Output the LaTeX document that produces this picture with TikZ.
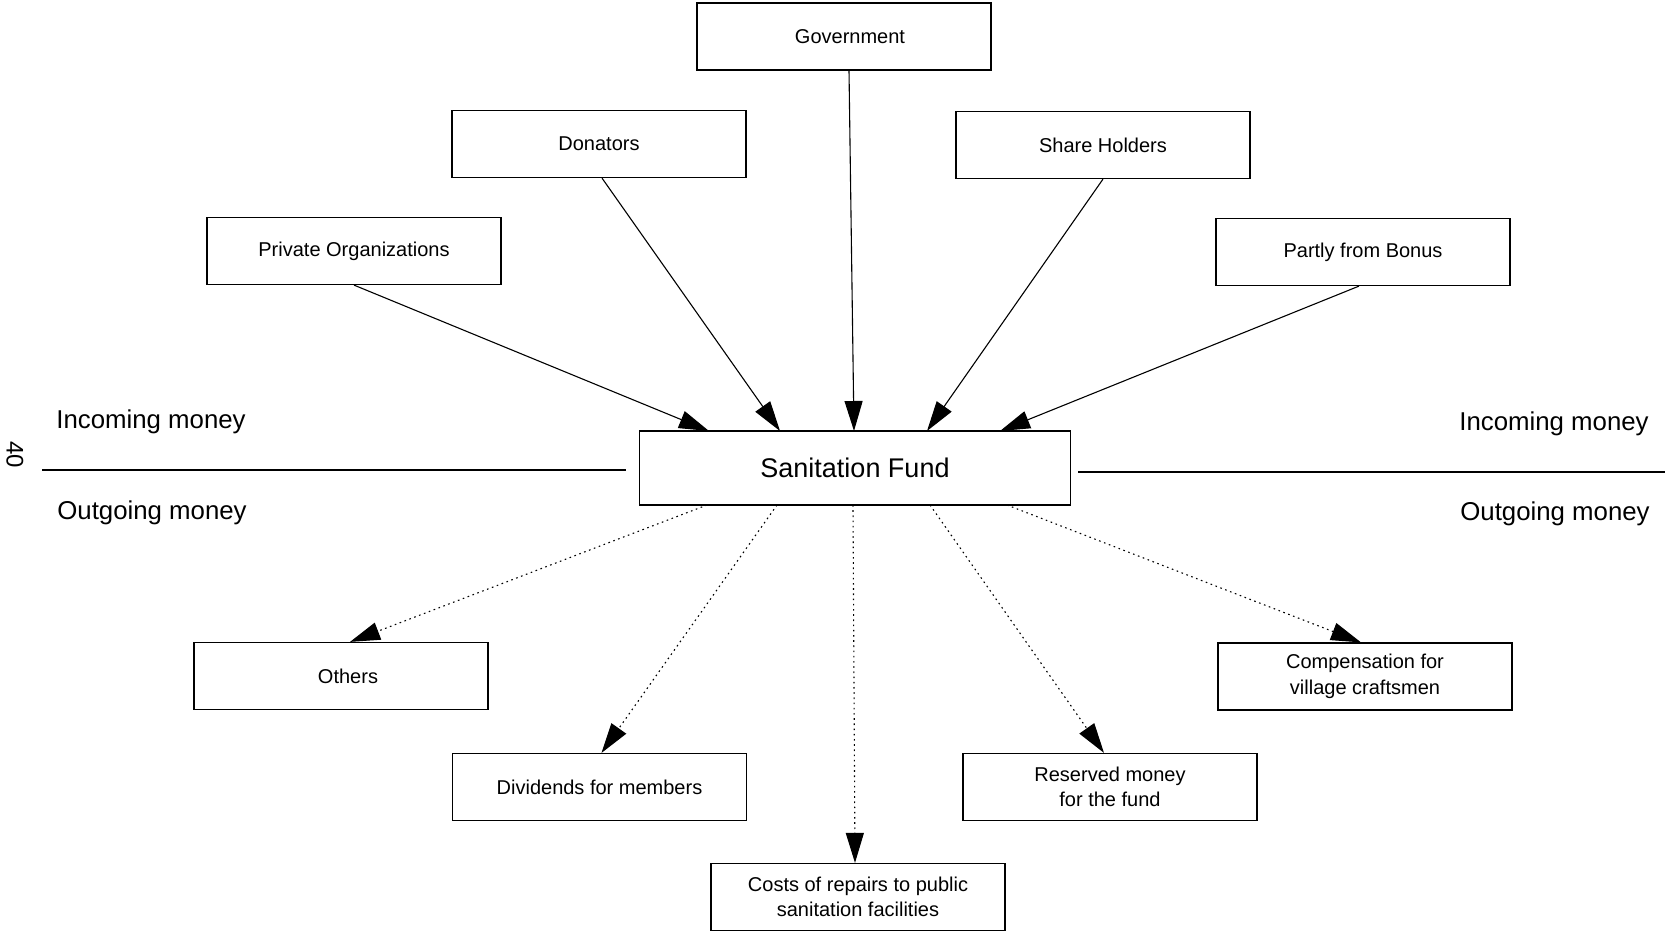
\documentclass[tikz,border=0pt]{standalone}
\usepackage{fontspec}
\setmainfont{Liberation Sans}
\usetikzlibrary{arrows.meta}
\tikzset{
  box/.style={draw, line width=0.6pt, minimum width=147pt, minimum height=33.5pt, inner sep=0pt, align=center, font=\fontsize{10}{12.7}\selectfont},
  inarrow/.style={line width=0.55pt, -{Triangle[length=15pt,width=9pt]}},
  outarrow/.style={inarrow, dash pattern=on 0.8pt off 1.8pt},
  sidelabel/.style={font=\fontsize{12.9}{15}\selectfont, inner sep=0pt},
  divider/.style={line width=0.6pt}
}
\begin{document}
\begin{tikzpicture}[x=0.5pt,y=-0.5pt]
\useasboundingbox (0,0) rectangle (1665,931);
% sources
\node[box] (gov) at (844,36.5) {\hspace*{6pt}Government};
\node[box] (don) at (599,144) {Donators};
\node[box] (sh) at (1103,145) {Share Holders};
\node[box] (po) at (354,251) {Private Organizations};
\node[box] (bon) at (1363,252) {Partly from Bonus};
% centre
\node[draw, line width=0.6pt, minimum width=215.5pt, minimum height=37pt, inner sep=0pt, font=\fontsize{13.5}{16}\selectfont] (sf) at (855,468) {Sanitation Fund};
% destinations
\node[box] (oth) at (341,676) {\hspace*{7pt}Others};
\node[box] (div) at (599.5,787) {Dividends for members};
\node[box] (cost) at (858,897) {Costs of repairs to public\\sanitation facilities};
\node[box] (res) at (1110,787) {Reserved money\\for the fund};
\node[box] (comp) at (1365,676.5) {Compensation for\\village craftsmen};
% side labels and dividers
\node[sidelabel] (inl) at (151,421.5) {Incoming money};
\node[sidelabel] (outl) at (152,513) {Outgoing money};
\node[sidelabel] (inr) at (1554,423.5) {Incoming money};
\node[sidelabel] (outr) at (1555,514) {Outgoing money};
\node[font=\fontsize{12}{14}\selectfont, rotate=-90, inner sep=0pt] (pg) at (15,455) {40};
\coordinate (l1) at (42,470);
\coordinate (l2) at (626,470);
\coordinate (r1) at (1078,472);
\coordinate (r2) at (1665,472);
\draw[divider] (l1) -- (l2);
\draw[divider] (r1) -- (r2);
% arrow end points on the fund box
\coordinate (i1) at (709,431);
\coordinate (i2) at (780,431);
\coordinate (i3) at (854,431);
\coordinate (i4) at (927,431);
\coordinate (i5) at (1000,431);
\coordinate (o1) at (707,505);
\coordinate (o2) at (777,505);
\coordinate (o3) at (853,505);
\coordinate (o4) at (930,505);
\coordinate (o5) at (1007,505);
% incoming
\draw[inarrow] (po.south) -- (i1);
\draw[inarrow] ([xshift=1.5pt]don.south) -- (i2);
\draw[inarrow] ([xshift=2.5pt]gov.south) -- (i3);
\draw[inarrow] (sh.south) -- (i4);
\draw[inarrow] ([xshift=-2pt]bon.south) -- (i5);
% outgoing
\draw[outarrow] (o1) -- ([xshift=4.5pt]oth.north);
\draw[outarrow] (o2) -- ([xshift=1pt]div.north);
\draw[outarrow] (o3) -- ([xshift=-1.5pt]cost.north);
\draw[outarrow] (o4) -- ([xshift=-3pt]res.north);
\draw[outarrow] (o5) -- ([xshift=-2pt]comp.north);
\end{tikzpicture}
\end{document}
